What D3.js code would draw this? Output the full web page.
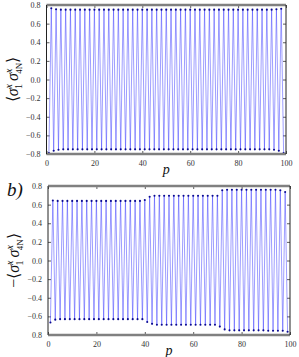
<!DOCTYPE html>
<html lang="en">
<head>
    <meta charset="UTF-8">
    <script src="https://d3js.org/d3.v7.min.js"></script>
    <title>Correlations vs p</title>
    <style>
        body { margin: 0; background: #fff; }
        svg { display: block; }
        .tick text { font-family: "Liberation Serif", serif; font-size: 8px; fill: #333; }
        .lbl { font-family: "Liberation Serif", serif; font-style: italic; fill: #111; }
    </style>
</head>
<body>
    <div id="container"></div>
    <script>
        /*------------------- data --------------------*/
        // p runs 1..99
        const pValues = d3.range(1, 100)

        // panel a: <sigma^x_1 sigma^x_4N>
        const corrA = [
            -0.79, 0.765, -0.765, 0.755, -0.755, 0.75, -0.75, 0.75, -0.75, 0.75,
            -0.75, 0.75, -0.75, 0.75, -0.75, 0.75, -0.75, 0.75, -0.75, 0.75,
            -0.75, 0.75, -0.75, 0.75, -0.75, 0.75, -0.75, 0.75, -0.75, 0.75,
            -0.75, 0.75, -0.75, 0.75, -0.75, 0.75, -0.75, 0.75, -0.75, 0.75,
            -0.75, 0.75, -0.75, 0.75, -0.75, 0.75, -0.75, 0.75, -0.75, 0.75,
            -0.75, 0.75, -0.75, 0.75, -0.75, 0.75, -0.75, 0.75, -0.75, 0.75,
            -0.75, 0.75, -0.75, 0.75, -0.75, 0.75, -0.75, 0.75, -0.75, 0.75,
            -0.75, 0.75, -0.75, 0.75, -0.75, 0.75, -0.75, 0.75, -0.75, 0.75,
            -0.75, 0.75, -0.75, 0.75, -0.75, 0.75, -0.75, 0.75, -0.75, 0.75,
            -0.75, 0.75, -0.75, 0.75, -0.755, 0.755, -0.765, 0.76, -0.79
        ]

        // panel b: -<sigma^x_1 sigma^x_4N>
        const corrB = [
            -0.665, 0.645, -0.635, 0.64, -0.63, 0.64, -0.63, 0.64, -0.63, 0.64,
            -0.63, 0.64, -0.63, 0.64, -0.63, 0.64, -0.63, 0.64, -0.63, 0.64,
            -0.63, 0.64, -0.63, 0.64, -0.63, 0.64, -0.63, 0.64, -0.63, 0.64,
            -0.63, 0.64, -0.63, 0.64, -0.63, 0.64, -0.63, 0.64, -0.63, 0.65,
            -0.66, 0.685, -0.68, 0.695, -0.69, 0.695, -0.69, 0.695, -0.69, 0.695,
            -0.69, 0.695, -0.69, 0.695, -0.69, 0.695, -0.69, 0.695, -0.69, 0.695,
            -0.69, 0.695, -0.69, 0.695, -0.69, 0.695, -0.69, 0.695, -0.69, 0.695,
            -0.71, 0.755, -0.74, 0.76, -0.75, 0.76, -0.75, 0.76, -0.75, 0.76,
            -0.75, 0.76, -0.75, 0.76, -0.75, 0.76, -0.75, 0.76, -0.75, 0.76,
            -0.755, 0.76, -0.755, 0.76, -0.755, 0.755, -0.755, 0.735, -0.765
        ]

        const xTicks = [0, 20, 40, 60, 80, 100]
        const yTicks = [0.8, 0.6, 0.4, 0.2, 0.0, -0.2, -0.4, -0.6, -0.8]
        const yLabelsA = ["0.8", "0.6", "0.4", "0.2", "0.0", "\u22120.2", "\u22120.4", "\u22120.6", "\u22120.8"]
        const yLabelsB = ["0.8", "0.6", "0.4", "0.2", "0.0", "\u22120.2", "\u22120.4", "\u22120.6", "0.8"]

        /*------------------- svg --------------------*/
        const W = 299, H = 357
        const svg = d3.select("#container").append("svg")
            .attr("width", W)
            .attr("height", H)

        // one panel
        function panel(box, values, yLabels, sign) {
            const x = d3.scaleLinear().domain([0, 100]).range([box.x0, box.x1])
            const y = d3.scaleLinear().domain([-0.8, 0.8]).range([box.y1, box.y0])
            const g = svg.append("g")

            // axes (ticks pointing inward)
            const fmtY = (d, i) => yLabels[i]
            g.append("g").attr("transform", `translate(0,${box.y1})`)
                .call(d3.axisBottom(x).tickValues(xTicks).tickSize(-3).tickPadding(6).tickFormat(d3.format("d")))
            g.append("g").attr("transform", `translate(0,${box.y0})`)
                .call(d3.axisTop(x).tickValues(xTicks).tickSize(-3).tickFormat(""))
            g.append("g").attr("transform", `translate(${box.x0},0)`)
                .call(d3.axisLeft(y).tickValues(yTicks).tickSize(-3).tickPadding(6).tickFormat(fmtY))
            g.append("g").attr("transform", `translate(${box.x1},0)`)
                .call(d3.axisRight(y).tickValues(yTicks).tickSize(-3).tickFormat(""))
            g.selectAll(".domain").remove()
            g.selectAll(".tick line").attr("stroke", "#333").attr("stroke-width", 0.8)

            // line + markers
            const pts = pValues.map((p, i) => [p, values[i]])
            const line = d3.line().x(d => x(d[0])).y(d => y(d[1]))
            g.append("path")
                .datum(pts)
                .attr("d", line)
                .attr("fill", "none")
                .attr("stroke", "#3c3cff")
                .attr("stroke-width", 0.5)
            g.selectAll("circle")
                .data(pts)
                .enter()
                .append("circle")
                .attr("cx", d => x(d[0]))
                .attr("cy", d => y(d[1]))
                .attr("r", 1.05)
                .attr("fill", "#0a0a90")

            // frame: grey thick top/bottom, thin dark sides
            g.append("line").attr("x1", box.x0).attr("x2", box.x1).attr("y1", box.y0).attr("y2", box.y0)
                .attr("stroke", "#808080").attr("stroke-width", 2.5)
            g.append("line").attr("x1", box.x0).attr("x2", box.x1).attr("y1", box.y1).attr("y2", box.y1)
                .attr("stroke", "#808080").attr("stroke-width", 2.5)
            g.append("line").attr("x1", box.x0).attr("x2", box.x0).attr("y1", box.y0).attr("y2", box.y1)
                .attr("stroke", "#222").attr("stroke-width", 1)
            g.append("line").attr("x1", box.x1).attr("x2", box.x1).attr("y1", box.y0).attr("y2", box.y1)
                .attr("stroke", "#222").attr("stroke-width", 1)

            // x label
            g.append("text").attr("class", "lbl")
                .attr("x", (box.x0 + box.x1) / 2).attr("y", box.y1 + 20)
                .attr("text-anchor", "middle")
                .style("font-size", "14px")
                .text("p")

            // y label, rotated
            const t = g.append("text").attr("class", "lbl")
                .attr("transform", `translate(${box.x0 - 29},${(box.y0 + box.y1) / 2}) rotate(-90)`)
                .attr("text-anchor", "middle")
                .style("font-size", "16px")
            t.append("tspan").style("font-style", "normal").text(sign + "\u27e8")
            t.append("tspan").text("\u03c3")
            t.append("tspan").attr("dy", -6).style("font-size", "10px").text("x")
            t.append("tspan").attr("dx", -5).attr("dy", 10).style("font-size", "10px").style("font-style", "normal").text("1")
            t.append("tspan").attr("dx", 3).attr("dy", -4).text("\u03c3")
            t.append("tspan").attr("dy", -6).style("font-size", "10px").text("x")
            t.append("tspan").attr("dx", -5).attr("dy", 10).style("font-size", "9px").style("font-style", "normal").text("4N")
            t.append("tspan").attr("dy", -4).style("font-style", "normal").text("\u27e9")
        }

        panel({ x0: 46.5, x1: 286, y0: 5, y1: 154 }, corrA, yLabelsA, "")
        panel({ x0: 48, x1: 290, y0: 186, y1: 335 }, corrB, yLabelsB, "\u2212")

        // panel tag
        svg.append("text").attr("class", "lbl")
            .attr("x", 7).attr("y", 196)
            .style("font-size", "19px")
            .text("b)")
    </script>
</body>
</html>
